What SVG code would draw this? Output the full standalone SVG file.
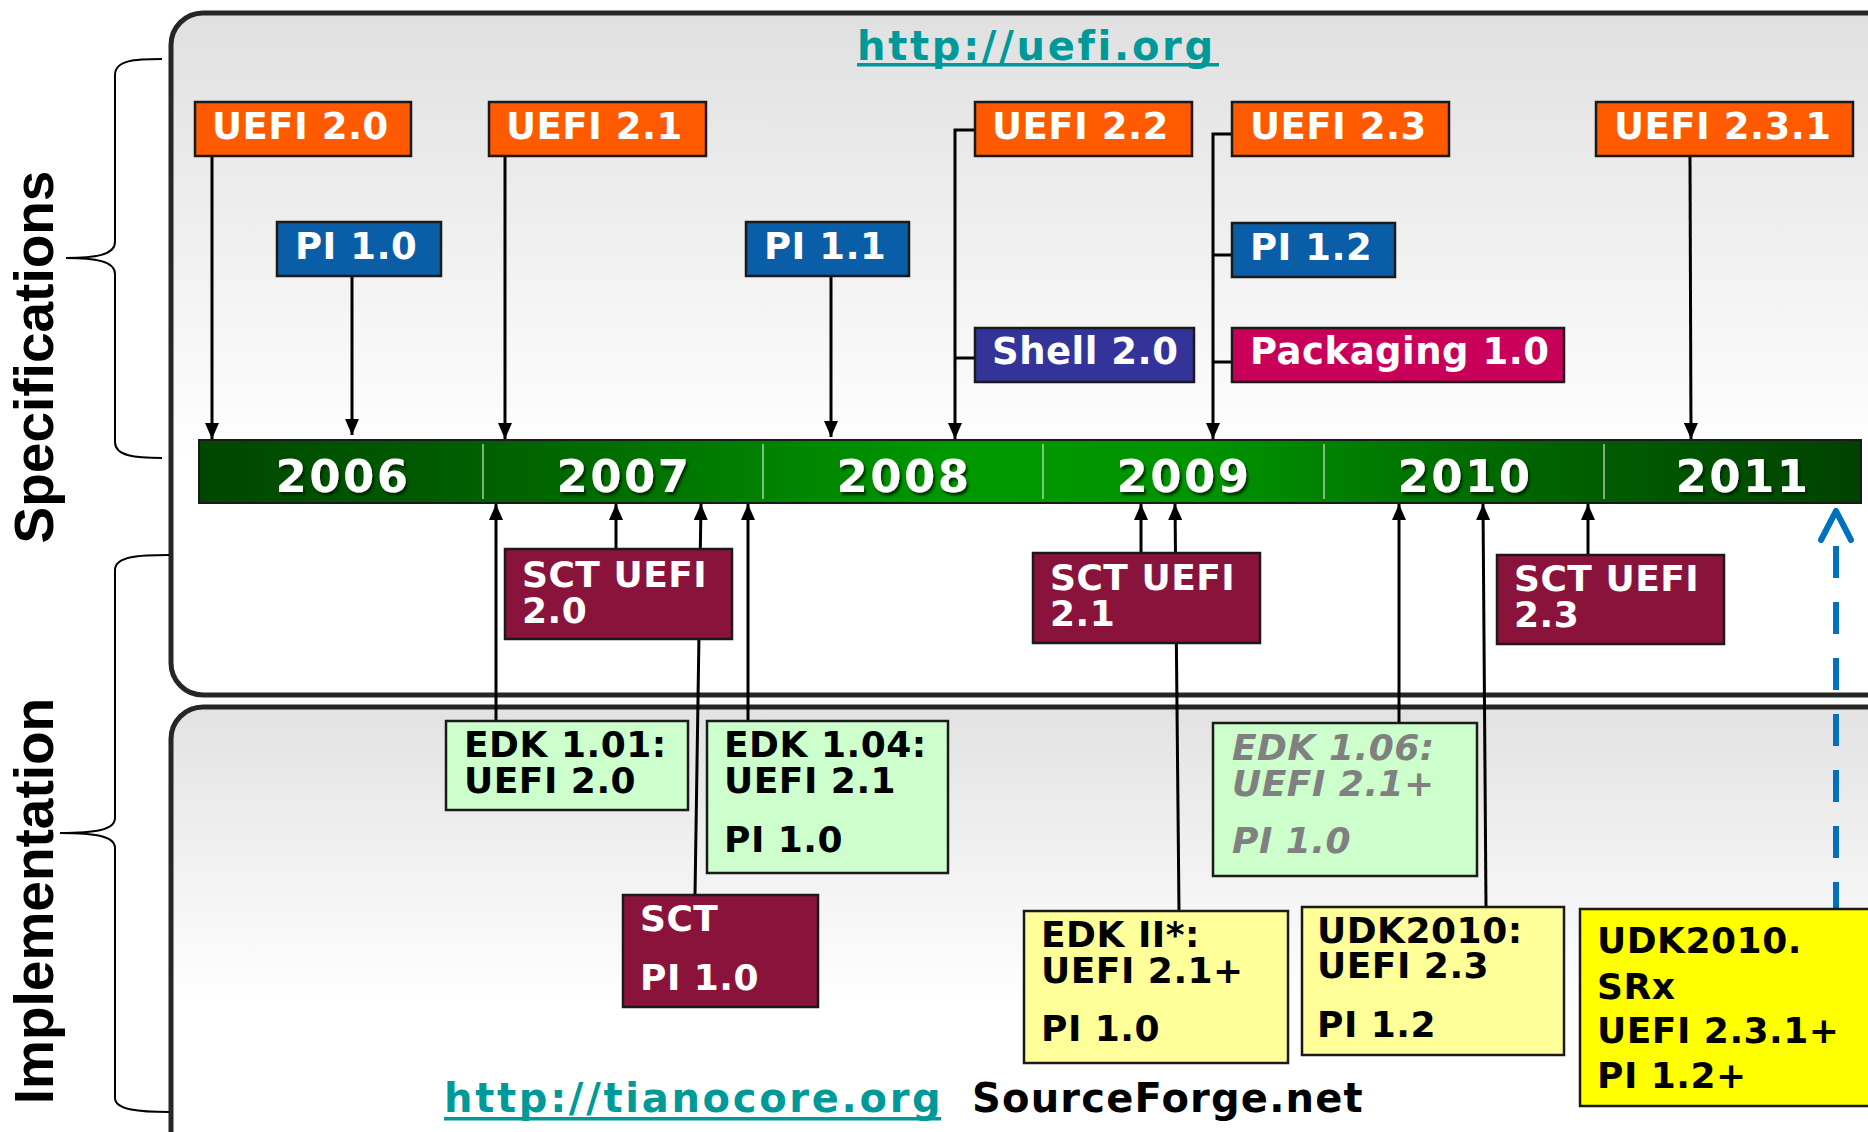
<svg xmlns="http://www.w3.org/2000/svg" width="1868" height="1132" viewBox="0 0 1868 1132">
<style>
.box{stroke:#1a1a1a;stroke-width:2.5}
.orange{fill:#ff5a00}
.blue{fill:#0a5ea8}
.indigo{fill:#333399}
.magenta{fill:#c8005a}
.maroon{fill:#8a133b}
.lgreen{fill:#ccffcc}
.lyellow{fill:#ffff99}
.yellow{fill:#ffff00}
.t{font-family:"DejaVu Sans",Verdana,sans-serif;font-weight:bold;font-size:37px;letter-spacing:0.5px}
.m{font-size:36px}
.w{fill:#ffffff}
.k{fill:#000000}
.g{fill:#808080;font-style:italic}
.yr{font-family:"DejaVu Sans",Verdana,sans-serif;font-weight:bold;font-size:45px;letter-spacing:2.5px;text-anchor:middle;fill:#ffffff}
.side{font-family:"Liberation Sans",Arial,sans-serif;font-weight:bold;font-size:55px;text-anchor:middle;fill:#000}
.url{font-family:"DejaVu Sans",Verdana,sans-serif;font-weight:bold;font-size:40px;letter-spacing:2.7px;fill:#009999}
.conn{stroke:#000;stroke-width:3;fill:none}
.brace{stroke:#000;stroke-width:2;fill:none}
</style>
<defs>
<linearGradient id="topbg" x1="0" y1="0" x2="0" y2="1">
<stop offset="0" stop-color="#e0e0e0"/>
<stop offset="0.66" stop-color="#ffffff"/>
<stop offset="1" stop-color="#ffffff"/>
</linearGradient>
<linearGradient id="botbg" x1="0" y1="0" x2="0" y2="1">
<stop offset="0" stop-color="#e2e2e2"/>
<stop offset="0.65" stop-color="#ffffff"/>
<stop offset="1" stop-color="#ffffff"/>
</linearGradient>
<linearGradient id="bar" x1="0" y1="0" x2="1" y2="0">
<stop offset="0" stop-color="#004600"/>
<stop offset="0.2" stop-color="#006400"/>
<stop offset="0.45" stop-color="#009800"/>
<stop offset="0.6" stop-color="#009400"/>
<stop offset="0.8" stop-color="#006400"/>
<stop offset="1" stop-color="#004200"/>
</linearGradient>
<filter id="shadow" x="-10%" y="-20%" width="130%" height="150%">
<feDropShadow dx="2" dy="3" stdDeviation="1.2" flood-color="#002200" flood-opacity="0.8"/>
</filter>
<marker id="ah" viewBox="0 0 16 14" refX="16" refY="7" markerWidth="16" markerHeight="14" markerUnits="userSpaceOnUse" orient="auto">
<path d="M0,0 L16,7 L0,14 z" fill="#000"/>
</marker>
</defs>

<!-- panels -->
<g id="spec-panel">
<rect x="171" y="13" width="1760" height="682" rx="32" fill="url(#topbg)" stroke="#262626" stroke-width="5"/>
</g>
<g id="impl-panel">
<rect x="171" y="707" width="1760" height="460" rx="32" fill="url(#botbg)" stroke="#262626" stroke-width="5"/>
</g>

<!-- side labels and braces -->
<g id="spec-label">
<path class="brace" d="M162,59 C135,59 115,60 115,75 L115,242 C115,255 95,258 66,258 C95,258 115,261 115,274 L115,442 C115,456 135,458 162,458"/>
<text class="side" transform="translate(53,357) rotate(-90)">Specifications</text>
</g>
<g id="impl-label">
<path class="brace" d="M169,555 C140,555 115,556 115,570 L115,818 C115,830 95,833 60,833 C95,833 115,836 115,848 L115,1098 C115,1110 140,1112 169,1112"/>
<text class="side" transform="translate(53,901) rotate(-90)">Implementation</text>
</g>

<!-- urls -->
<g id="url-uefi">
<text class="url" x="857" y="60">http://uefi.org</text>
<rect x="857" y="63" width="362" height="3.5" fill="#009999"/>
</g>
<g id="url-tiano">
<text class="url" x="444" y="1112">http://tianocore.org</text>
<rect x="444" y="1117" width="497" height="3.5" fill="#009999"/>
</g>
<g id="sourceforge">
<text x="972" y="1112" style="font-family:'DejaVu Sans',Verdana,sans-serif;font-weight:bold;font-size:40px;letter-spacing:1.2px;fill:#000">SourceForge.net</text>
</g>

<!-- timeline bar -->
<g id="timeline">
<rect x="199" y="440" width="1662" height="63" fill="url(#bar)" stroke="#1a1a1a" stroke-width="2"/>
<g stroke="#cfe8cf" stroke-width="1.5" opacity="0.8">
<line x1="483" y1="444" x2="483" y2="499"/>
<line x1="763" y1="444" x2="763" y2="499"/>
<line x1="1043" y1="444" x2="1043" y2="499"/>
<line x1="1324" y1="444" x2="1324" y2="499"/>
<line x1="1604" y1="444" x2="1604" y2="499"/>
</g>
<g class="yr" filter="url(#shadow)">
<text x="343" y="492">2006</text>
<text x="624" y="492">2007</text>
<text x="904" y="492">2008</text>
<text x="1184" y="492">2009</text>
<text x="1465" y="492">2010</text>
<text x="1743" y="492">2011</text>
</g>
</g>

<!-- connectors -->
<g id="connectors">
<line class="conn" x1="212" y1="156" x2="212" y2="439" marker-end="url(#ah)"/>
<line class="conn" x1="352" y1="276" x2="352" y2="435" marker-end="url(#ah)"/>
<line class="conn" x1="505" y1="156" x2="505" y2="439" marker-end="url(#ah)"/>
<line class="conn" x1="831" y1="276" x2="831" y2="437" marker-end="url(#ah)"/>
<path class="conn" d="M976,130 H955 V439" marker-end="url(#ah)"/>
<path class="conn" d="M976,358 H955"/>
<path class="conn" d="M1233,134 H1213 V439" marker-end="url(#ah)"/>
<path class="conn" d="M1233,255 H1213"/>
<path class="conn" d="M1233,362 H1213"/>
<line class="conn" x1="1690" y1="156" x2="1691" y2="439" marker-end="url(#ah)"/>

<line class="conn" x1="496" y1="721" x2="496" y2="504" marker-end="url(#ah)"/>
<line class="conn" x1="616" y1="549" x2="616" y2="504" marker-end="url(#ah)"/>
<line class="conn" x1="695" y1="895" x2="701" y2="504" marker-end="url(#ah)"/>
<line class="conn" x1="748" y1="721" x2="748" y2="504" marker-end="url(#ah)"/>
<line class="conn" x1="1141" y1="553" x2="1141" y2="504" marker-end="url(#ah)"/>
<line class="conn" x1="1179" y1="911" x2="1175" y2="504" marker-end="url(#ah)"/>
<line class="conn" x1="1399" y1="723" x2="1399" y2="504" marker-end="url(#ah)"/>
<line class="conn" x1="1486" y1="907" x2="1483" y2="504" marker-end="url(#ah)"/>
<line class="conn" x1="1588" y1="555" x2="1588" y2="504" marker-end="url(#ah)"/>

<line x1="1836" y1="546" x2="1836" y2="910" stroke="#0070c0" stroke-width="6" stroke-dasharray="32 24"/>
<path d="M1821,540 L1836,511 L1851,540" fill="none" stroke="#0070c0" stroke-width="6" stroke-linecap="round" stroke-linejoin="round"/>
</g>

<!-- specification nodes -->
<g id="uefi20"><rect class="box orange" x="195" y="102" width="216" height="54"/><text class="t w" x="212" y="139">UEFI 2.0</text></g>
<g id="uefi21"><rect class="box orange" x="489" y="102" width="217" height="54"/><text class="t w" x="506" y="139">UEFI 2.1</text></g>
<g id="uefi22"><rect class="box orange" x="975" y="102" width="217" height="54"/><text class="t w" x="992" y="139">UEFI 2.2</text></g>
<g id="uefi23"><rect class="box orange" x="1232" y="102" width="217" height="54"/><text class="t w" x="1250" y="139">UEFI 2.3</text></g>
<g id="uefi231"><rect class="box orange" x="1596" y="102" width="257" height="54"/><text class="t w" x="1614" y="139">UEFI 2.3.1</text></g>
<g id="pi10"><rect class="box blue" x="277" y="222" width="164" height="54"/><text class="t w" x="295" y="259">PI 1.0</text></g>
<g id="pi11"><rect class="box blue" x="746" y="222" width="163" height="54"/><text class="t w" x="764" y="259">PI 1.1</text></g>
<g id="pi12"><rect class="box blue" x="1232" y="223" width="163" height="54"/><text class="t w" x="1250" y="260">PI 1.2</text></g>
<g id="shell20"><rect class="box indigo" x="975" y="328" width="219" height="54"/><text class="t w" x="992" y="364">Shell 2.0</text></g>
<g id="packaging10"><rect class="box magenta" x="1232" y="328" width="332" height="54"/><text class="t w" x="1250" y="364">Packaging 1.0</text></g>

<!-- SCT nodes -->
<g id="sct-uefi20"><rect class="box maroon" x="505" y="549" width="227" height="90"/><text class="t m w" x="522" y="587">SCT UEFI</text><text class="t m w" x="522" y="623">2.0</text></g>
<g id="sct-uefi21"><rect class="box maroon" x="1033" y="553" width="227" height="90"/><text class="t m w" x="1050" y="590">SCT UEFI</text><text class="t m w" x="1050" y="626">2.1</text></g>
<g id="sct-uefi23"><rect class="box maroon" x="1497" y="555" width="227" height="89"/><text class="t m w" x="1514" y="591">SCT UEFI</text><text class="t m w" x="1514" y="627">2.3</text></g>
<g id="sct-pi10"><rect class="box maroon" x="623" y="895" width="195" height="112"/><text class="t m w" x="640" y="931">SCT</text><text class="t m w" x="640" y="990">PI 1.0</text></g>

<!-- implementation nodes -->
<g id="edk101"><rect class="box lgreen" x="446" y="721" width="242" height="89"/><text class="t m k" x="464" y="757">EDK 1.01:</text><text class="t m k" x="464" y="793">UEFI 2.0</text></g>
<g id="edk104"><rect class="box lgreen" x="707" y="721" width="241" height="152"/><text class="t m k" x="724" y="757">EDK 1.04:</text><text class="t m k" x="724" y="793">UEFI 2.1</text><text class="t m k" x="724" y="852">PI 1.0</text></g>
<g id="edk106"><rect class="box lgreen" x="1213" y="723" width="264" height="153"/><text class="t m g" x="1232" y="760">EDK 1.06:</text><text class="t m g" x="1232" y="796">UEFI 2.1+</text><text class="t m g" x="1232" y="853">PI 1.0</text></g>
<g id="edk2"><rect class="box lyellow" x="1024" y="911" width="264" height="152"/><text class="t m k" x="1041" y="947">EDK II*:</text><text class="t m k" x="1041" y="983">UEFI 2.1+</text><text class="t m k" x="1041" y="1041">PI 1.0</text></g>
<g id="udk2010"><rect class="box lyellow" x="1302" y="907" width="262" height="148"/><text class="t m k" x="1317" y="943">UDK2010:</text><text class="t m k" x="1317" y="978">UEFI 2.3</text><text class="t m k" x="1317" y="1037">PI 1.2</text></g>
<g id="udk2010-srx"><rect class="box yellow" x="1580" y="909" width="300" height="197"/><text class="t m k" x="1597" y="953">UDK2010.</text><text class="t m k" x="1597" y="999">SRx</text><text class="t m k" x="1597" y="1043">UEFI 2.3.1+</text><text class="t m k" x="1597" y="1088">PI 1.2+</text></g>
</svg>
